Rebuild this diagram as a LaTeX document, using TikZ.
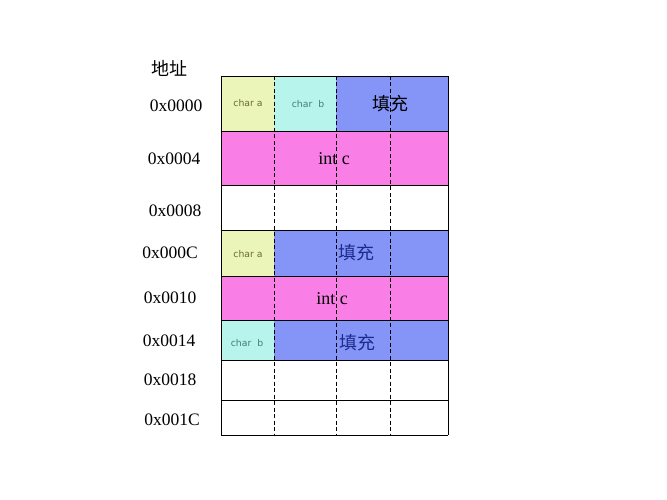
\documentclass[tikz,border=0pt]{standalone}
\usepackage{fontspec}
\setmainfont{Liberation Serif}
\newfontfamily\cjk{Noto Sans CJK SC}
\newfontfamily\smallsans{DejaVu Sans}
\definecolor{cya}{HTML}{EBF5B9}
\definecolor{cyb}{HTML}{B6F4EC}
\definecolor{cfill}{HTML}{8494F7}
\definecolor{cint}{HTML}{F97FE6}
\definecolor{ta}{HTML}{6B6B2E}
\definecolor{tb}{HTML}{3F7F7A}
\definecolor{tpad}{HTML}{1C2A8C}
\begin{document}
\begin{tikzpicture}[x=1pt,y=-1pt,
  addr/.style={font=\fontsize{17.5}{19}\selectfont, inner sep=0pt},
  chartxt/.style={font=\smallsans\fontsize{9.3}{10}\selectfont, inner sep=0pt},
  padtxt/.style={font=\cjk\fontsize{18}{19}\selectfont, inner sep=0pt},
  inttxt/.style={font=\fontsize{18}{19}\selectfont, inner sep=0pt},
  hline/.style={black, line width=0.8pt},
  vdash/.style={black, dashed, line width=0.8pt, dash pattern=on 4pt off 2.5pt}]
\useasboundingbox (0,0) rectangle (667,500);
% fills
\fill[cya] (221,76) rectangle (274,131);
\fill[cyb] (274,76) rectangle (336,131);
\fill[cfill] (336,76) rectangle (448,131);
\fill[cint] (221,131) rectangle (448,185);
\fill[cya] (221,230) rectangle (274,276);
\fill[cfill] (274,230) rectangle (448,276);
\fill[cint] (221,276) rectangle (448,320);
\fill[cyb] (221,320) rectangle (274,360);
\fill[cfill] (274,320) rectangle (448,360);
% horizontal lines and frame
\foreach \y in {76,131,185,230,276,320,360,400,435} \draw[hline] (221,\y) -- (448,\y);
\draw[hline] (221,76) -- (221,435);
\draw[hline] (448,76) -- (448,435);
% dashed verticals
\foreach \x in {274,336,390} \draw[vdash] (\x,76) -- (\x,435);
% labels
\node[font=\cjk\fontsize{18}{19}\selectfont, inner sep=0pt] (title) at (169,68) {地址};
\node[addr] (a0) at (176,106) {0x0000};
\node[addr] (a4) at (174,159) {0x0004};
\node[addr] (a8) at (175,211) {0x0008};
\node[addr] (aC) at (170,253) {0x000C};
\node[addr] (a10) at (170,298) {0x0010};
\node[addr] (a14) at (169,341) {0x0014};
\node[addr] (a18) at (170,380) {0x0018};
\node[addr] (a1C) at (172,420) {0x001C};
% cell texts
\node[chartxt, text=ta] (ca1) at (248,103) {char a};
\node[chartxt, text=tb] (cb1) at (308,104) {char\ \ b};
\node[padtxt, text=black] (p1) at (390,104) {填充};
\node[inttxt] (i1) at (334,159) {int c};
\node[chartxt, text=ta] (ca2) at (248,254) {char a};
\node[padtxt, text=tpad] (p2) at (356,253) {填充};
\node[inttxt] (i2) at (332,299) {int c};
\node[chartxt, text=tb] (cb2) at (247,343) {char\ \ b};
\node[padtxt, text=tpad] (p3) at (357,343) {填充};
\end{tikzpicture}
\end{document}
